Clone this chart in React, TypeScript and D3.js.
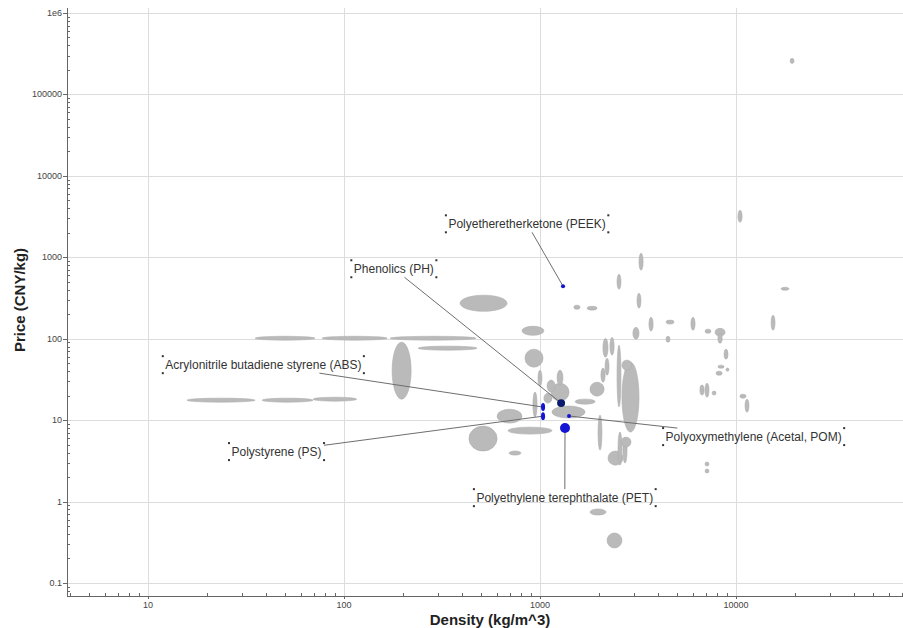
import React from 'react';
import * as d3 from 'd3';

const W = 903;
const H = 628;

// Material property ranges (gray bubbles): density kg/m^3, price CNY/kg
const densityLow = [35.2, 77.3, 172, 239, 176, 15.8, 38.2, 69.5, 391, 809, 838, 604, 687, 434, 695, 920, 977, 1138, 1222, 1086, 1047, 1151, 1510, 1799, 2094, 2275, 2148, 2046, 2472, 2618, 2618, 1977, 2223, 2500, 2649, 2588, 1799, 2198, 1489, 1738, 3199, 2472, 3126, 3597, 2979, 4395, 4395, 5888, 6950, 7816, 8091, 8690, 8091, 7907, 8892, 6546, 6950, 7551, 10470, 11120, 10230, 16980, 15100, 6950, 6950, 18880];
const densityHigh = [71.1, 166, 471, 477, 220, 35.2, 69.5, 116, 679, 1047, 1036, 809, 1151, 604, 800, 966, 1023, 1406, 1309, 1194, 1151, 1698, 1910, 2123, 2223, 2388, 2249, 2148, 2588, 3199, 2944, 2070, 2649, 2618, 2780, 2911, 2172, 2618, 1600, 1954, 3357, 2588, 3273, 3776, 3199, 4831, 4603, 6180, 7447, 8790, 8492, 9099, 8690, 8492, 9204, 6871, 7278, 7907, 11250, 11640, 10740, 18620, 15810, 7278, 7278, 19770];
const priceLow = [95.9, 95.9, 95.9, 72.3, 18.1, 16.6, 16.6, 17.1, 217, 110, 44.7, 9.19, 6.73, 4.17, 3.72, 10.9, 26.1, 17.1, 26.9, 22.1, 16.2, 10.6, 15.7, 19.7, 59.3, 62.8, 35.6, 29.2, 14.5, 7.13, 41.0, 4.29, 2.80, 2.80, 2.97, 4.66, 0.683, 0.269, 230, 224, 692, 405, 237, 124, 98.6, 151, 90.6, 127, 117, 107, 88.1, 56.0, 43.5, 35.6, 39.9, 20.3, 19.1, 20.3, 18.6, 12.5, 2687, 394, 127, 2.73, 2.24, 240000];
const priceHigh = [107, 107, 107, 80.9, 90.6, 18.6, 18.6, 19.1, 342, 142, 74.3, 13.6, 8.20, 8.44, 4.17, 22.1, 41.0, 28.4, 41.0, 31.0, 21.4, 14.9, 18.1, 29.2, 101, 104, 57.7, 43.5, 83.2, 51.5, 54.5, 11.5, 4.17, 7.13, 6.18, 6.18, 0.809, 0.411, 258, 250, 1119, 618, 361, 183, 138, 169, 107, 183, 131, 134, 117, 74.3, 47.3, 39.9, 43.5, 26.9, 28.4, 22.7, 20.8, 18.1, 3776, 428, 194, 3.05, 2.51, 277000];

// Highlighted materials
const hlNames = [
  'Polyetheretherketone (PEEK)',
  'Phenolics (PH)',
  'Acrylonitrile butadiene styrene (ABS)',
  'Polystyrene (PS)',
  'Polyethylene terephthalate (PET)',
  'Polyoxymethylene (Acetal, POM)',
];
const hlDensityLow = [1279, 1222, 1012, 1012, 1265, 1374];
const hlDensityHigh = [1343, 1343, 1061, 1061, 1422, 1439];
const hlPriceLow = [417, 14.5, 12.9, 10.0, 6.93, 10.6];
const hlPriceHigh = [467, 18.1, 16.2, 12.5, 9.19, 11.9];
// label box top-left anchor, in data coordinates
const labelDensity = [331, 109, 11.9, 25.9, 460, 4246];
const labelPrice = [3273, 918, 61.0, 5.22, 1.42, 7.98];

const xTicks = [10, 100, 1000, 10000];
const xTickLabels = ['10', '100', '1000', '10000'];
const yTicks = [0.1, 1, 10, 100, 1000, 10000, 100000, 1000000];
const yTickLabels = ['0.1', '1', '10', '100', '1000', '10000', '100000', '1e6'];

const FONT = "'Liberation Sans', Arial, sans-serif";

let measureCtx: CanvasRenderingContext2D | null = null;
function textWidth(t: string, font: string): number {
  if (!measureCtx) measureCtx = document.createElement('canvas').getContext('2d');
  if (!measureCtx) return t.length * 6;
  measureCtx.font = font;
  return measureCtx.measureText(t).width;
}

function clipToBox(cx: number, cy: number, px: number, py: number, x0: number, y0: number, x1: number, y1: number) {
  const dx = px - cx, dy = py - cy;
  let t = 1;
  if (dx > 0) t = Math.min(t, (x1 - cx) / dx);
  if (dx < 0) t = Math.min(t, (x0 - cx) / dx);
  if (dy > 0) t = Math.min(t, (y1 - cy) / dy);
  if (dy < 0) t = Math.min(t, (y0 - cy) / dy);
  return [cx + dx * t, cy + dy * t];
}

export default function App() {
  const left = 67, right = 903, top = 8, bottom = 596;
  const x = d3.scaleLog().domain([3.862, 71100]).range([left, right]);
  const y = d3.scaleLog().domain([0.0692, 1.15e6]).range([bottom, top]);

  const minorX: number[] = [];
  for (let e = 0; e <= 4; e++) for (let m = 2; m <= 9; m++) {
    const v = m * Math.pow(10, e);
    if (v >= 3.862 && v <= 71100) minorX.push(v);
  }
  const minorY: number[] = [];
  for (let e = -2; e <= 6; e++) for (let m = 2; m <= 9; m++) {
    const v = m * Math.pow(10, e);
    if (v >= 0.0692 && v <= 1.15e6) minorY.push(v);
  }

  const ell = (dl: number, dh: number, pl: number, ph: number) => {
    const x0 = x(dl), x1 = x(dh), y0 = y(ph), y1 = y(pl);
    return {
      cx: (x0 + x1) / 2,
      cy: (y0 + y1) / 2,
      rx: Math.max(1.5, (x1 - x0) / 2),
      ry: Math.max(1.5, (y1 - y0) / 2),
    };
  };

  const labelFont = `12px ${FONT}`;
  const labels = hlNames.map((name, i) => {
    const e = ell(hlDensityLow[i], hlDensityHigh[i], hlPriceLow[i], hlPriceHigh[i]);
    const bx = x(labelDensity[i]);
    const by = y(labelPrice[i]);
    const w = textWidth(name, labelFont) + 5;
    const h = 17;
    const [lx, ly] = clipToBox(bx + w / 2, by + h / 2, e.cx, e.cy, bx, by, bx + w, by + h);
    return { name, e, bx, by, w, h, lx, ly };
  });

  return (
    <svg width={W} height={H} style={{ position: 'absolute', left: 0, top: 0, background: '#fff' }} fontFamily={FONT}>
      <defs>
        <clipPath id="plot">
          <rect x={left} y={top} width={right - left} height={bottom - top} />
        </clipPath>
      </defs>
      <rect x={0} y={0} width={W} height={H} fill="#fff" />
      <g stroke="#dcdcdc" strokeWidth={1}>
        {xTicks.map((t) => (
          <line key={'gx' + t} x1={Math.round(x(t)) + 0.5} x2={Math.round(x(t)) + 0.5} y1={top} y2={bottom} />
        ))}
        {yTicks.map((t) => (
          <line key={'gy' + t} x1={left} x2={right} y1={Math.round(y(t)) + 0.5} y2={Math.round(y(t)) + 0.5} />
        ))}
      </g>
      <g clipPath="url(#plot)">
        {densityLow.map((d, i) => {
          const e = ell(d, densityHigh[i], priceLow[i], priceHigh[i]);
          return (
            <ellipse key={'e' + i} cx={e.cx} cy={e.cy} rx={e.rx} ry={e.ry} fill="#bababa" stroke="#adadad" strokeWidth={0.6} />
          );
        })}
      </g>
      <g stroke="#6e6e6e" strokeWidth={1}>
        {labels.map((l) => (
          <line key={'ll' + l.name} x1={l.lx} y1={l.ly} x2={l.e.cx} y2={l.e.cy} />
        ))}
      </g>
      <g>
        {labels.map((l) => (
          <ellipse
            key={'hb' + l.name}
            cx={l.e.cx}
            cy={l.e.cy}
            rx={l.e.rx}
            ry={l.e.ry}
            fill={l.name === 'Phenolics (PH)' ? '#0c1a6e' : '#1414d4'}
          />
        ))}
      </g>
      <g>
        {labels.map((l) => (
          <g key={'lb' + l.name}>
            <text x={l.bx + 2.5} y={l.by + 13} fontSize={12} fill="#333">{l.name}</text>
            {[
              [l.bx, l.by],
              [l.bx + l.w, l.by],
              [l.bx, l.by + l.h],
              [l.bx + l.w, l.by + l.h],
            ].map(([cx, cy], j) => (
              <rect key={j} x={cx - 1} y={cy - 1} width={2} height={2} fill="#333" />
            ))}
          </g>
        ))}
      </g>
      <g stroke="#666" strokeWidth={1}>
        <line x1={left + 0.5} x2={left + 0.5} y1={top} y2={bottom} />
        <line x1={left} x2={right} y1={bottom + 0.5} y2={bottom + 0.5} />
        {minorX.map((t) => (
          <line key={'mx' + t} x1={Math.round(x(t)) + 0.5} x2={Math.round(x(t)) + 0.5} y1={bottom - 3} y2={bottom} />
        ))}
        {minorY.map((t) => (
          <line key={'my' + t} x1={left} x2={left + 3} y1={Math.round(y(t)) + 0.5} y2={Math.round(y(t)) + 0.5} />
        ))}
        {xTicks.map((t) => (
          <line key={'tx' + t} x1={Math.round(x(t)) + 0.5} x2={Math.round(x(t)) + 0.5} y1={bottom} y2={bottom + 3} />
        ))}
        {yTicks.map((t) => (
          <line key={'ty' + t} x1={left - 4} x2={left} y1={Math.round(y(t)) + 0.5} y2={Math.round(y(t)) + 0.5} />
        ))}
      </g>
      <g fontSize={9} fill="#444">
        {xTicks.map((t, i) => (
          <text key={'xl' + t} x={x(t)} y={bottom + 11.5} textAnchor="middle">{xTickLabels[i]}</text>
        ))}
        {yTicks.map((t, i) => (
          <text key={'yl' + t} x={left - 5} y={y(t) + 3} textAnchor="end">{yTickLabels[i]}</text>
        ))}
      </g>
      <text x={490} y={625} textAnchor="middle" fontSize={15} fontWeight="bold" fill="#222">Density (kg/m^3)</text>
      <text transform="translate(25,300) rotate(-90)" textAnchor="middle" fontSize={15} fontWeight="bold" fill="#222">Price (CNY/kg)</text>
    </svg>
  );
}
